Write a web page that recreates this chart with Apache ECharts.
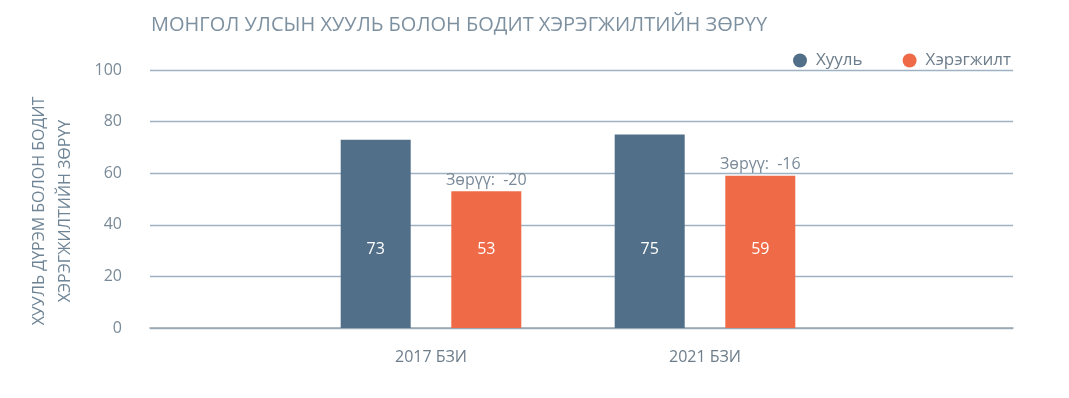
<!DOCTYPE html>
<html>
<head>
<meta charset="utf-8">
<script src="https://cdn.jsdelivr.net/npm/echarts@6/dist/echarts.min.js"></script>
<style>
html,body{margin:0;padding:0;background:#fff;}
#chart{width:1069px;height:398px;}
</style>
</head>
<body>
<div id="chart"></div>
<script>
const categories = ['2017 БЗИ', '2021 БЗИ'];
const lawValues = [73, 75];
const practiceValues = [53, 59];
const gapValues = [-20, -16];
const seriesNames = ['Хууль', 'Хэрэгжилт'];
const titleText = 'МОНГОЛ УЛСЫН ХУУЛЬ БОЛОН БОДИТ ХЭРЭГЖИЛТИЙН ЗӨРҮҮ';
const yAxisTitle = 'ХУУЛЬ ДҮРЭМ БОЛОН БОДИТ\nХЭРЭГЖИЛТИЙН ЗӨРҮҮ';
const gapPrefix = 'Зөрүү:  ';

const FONT = '"Open Sans", "Noto Sans", sans-serif';
const BLUE = '#526f89';
const ORANGE = '#ef6b48';
const TEXT = '#7a8a98';

const chart = echarts.init(document.getElementById('chart'), null, {renderer: 'canvas'});
chart.setOption({
  backgroundColor: '#fff',
  animation: false,
  textStyle: {fontFamily: FONT},
  title: {
    text: titleText,
    left: 146, top: 10,
    textStyle: {fontFamily: FONT, fontSize: 20, fontWeight: 'normal', color: '#7d90a0'}
  },
  legend: {
    data: seriesNames,
    left: 788, top: 47,
    icon: 'circle', itemWidth: 14, itemHeight: 14, itemGap: 40,
    textStyle: {fontFamily: FONT, fontSize: 17, color: '#6d7d8a', padding: [0, 0, 0, 4]}
  },
  grid: [
    {left: 150, right: 56, top: 70, bottom: 70},
    {left: 294, width: 548, top: 70, bottom: 70}
  ],
  xAxis: [
    {type: 'category', gridIndex: 0, data: [''],
     axisLine: {show: true, lineStyle: {color: '#9aa6b0', width: 1.5}},
     axisTick: {show: false}, axisLabel: {show: false}},
    {type: 'category', gridIndex: 1, data: categories,
     axisLine: {show: false}, axisTick: {show: false},
     axisLabel: {margin: 21, fontFamily: FONT, fontSize: 16, color: '#6d7d8a'}}
  ],
  yAxis: [
    {type: 'value', gridIndex: 0, min: 0, max: 100, interval: 20,
     name: yAxisTitle, nameLocation: 'middle', nameGap: 72, nameRotate: 90,
     nameTextStyle: {fontFamily: FONT, fontSize: 16, color: '#6f8596', lineHeight: 26, align: 'center',
       padding: [0, 24, 0, 0]},
     axisLine: {show: false}, axisTick: {show: false},
     axisLabel: {margin: 28, fontFamily: FONT, fontSize: 16, color: TEXT},
     splitLine: {lineStyle: {color: '#9fb2c3', width: 1.3}}},
    {type: 'value', gridIndex: 1, min: 0, max: 100, interval: 20, show: false,
     splitLine: {show: false}}
  ],
  series: [
    {name: seriesNames[0], type: 'bar', xAxisIndex: 1, yAxisIndex: 1,
     data: lawValues, barWidth: 70, barGap: '58%',
     itemStyle: {color: BLUE},
     label: {show: true, position: 'insideBottom', distance: 71,
       fontFamily: FONT, fontSize: 16, color: '#fff'}},
    {name: seriesNames[1], type: 'bar', xAxisIndex: 1, yAxisIndex: 1,
     data: practiceValues, barWidth: 70, barGap: '58%',
     itemStyle: {color: ORANGE},
     label: {show: true, position: 'insideBottom', distance: 71,
       fontFamily: FONT, fontSize: 16, color: '#fff'},
     markPoint: {
       symbol: 'circle', symbolSize: 0,
       label: {show: true, position: 'top', distance: 3,
         fontFamily: FONT, fontSize: 16, color: TEXT,
         formatter: p => gapPrefix + p.value},
       data: categories.map((c, i) => ({coord: [c, practiceValues[i]], value: gapValues[i]}))
     }}
  ]
});
</script>
</body>
</html>
